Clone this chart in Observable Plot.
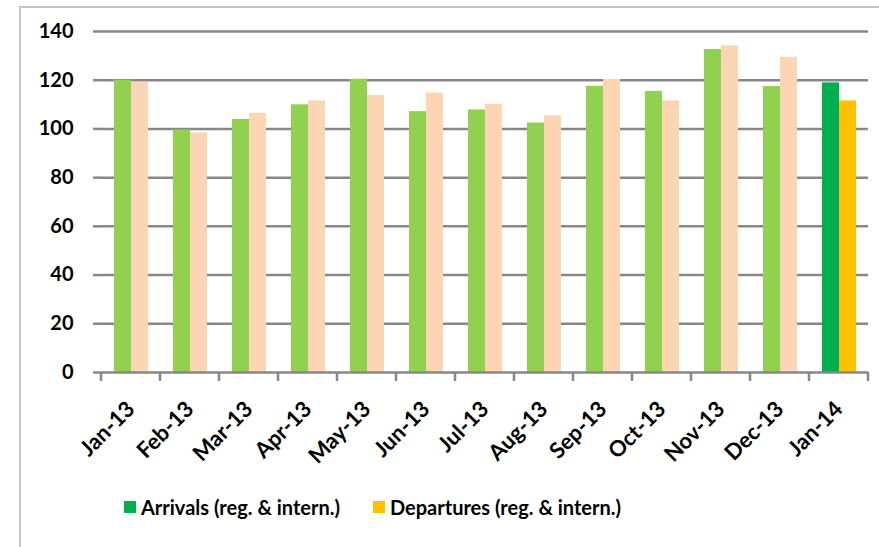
<!DOCTYPE html>
<html>
<head>
<meta charset="utf-8">
<script src="https://cdn.jsdelivr.net/npm/d3@7"></script>
<script src="https://cdn.jsdelivr.net/npm/@observablehq/plot@0.6"></script>
<style>
  html, body { margin: 0; padding: 0; background: #fff; overflow: hidden; width: 879px; height: 547px; }
  #wrap { position: relative; width: 879px; height: 547px; font-family: Lato, "Open Sans", sans-serif; }
  #border { position: absolute; left: 19px; top: 6px; width: 900px; height: 600px; border: 2px solid #c4c4c4; box-sizing: border-box; }
  #chart { position: absolute; left: 0; top: 0; }
  .item { position: absolute; top: 495px; display: flex; align-items: center; font-weight: 700; font-size: 20px; color: #000; white-space: nowrap; }
  .sw { width: 12px; height: 12px; margin-right: 5px; }
</style>
</head>
<body>
<div id="wrap">
  <div id="border"></div>
  <div id="chart"></div>
  <div id="legend"></div>
</div>
<script>
const months = ["Jan-13","Feb-13","Mar-13","Apr-13","May-13","Jun-13","Jul-13","Aug-13","Sep-13","Oct-13","Nov-13","Dec-13","Jan-14"];
const series = ["Arrivals (reg. & intern.)", "Departures (reg. & intern.)"];
const arrivals   = [120, 99.6, 103.9, 109.9, 120.4, 107.1, 107.8, 102.4, 117.5, 115.4, 132.6, 117.4, 118.9];
const departures = [119, 98.4, 106.4, 111.5, 113.8, 114.7, 110.1, 105.4, 120.3, 111.5, 134.1, 129.4, 111.5];
const yTicks = [0, 20, 40, 60, 80, 100, 120, 140];
const highlightMonth = "Jan-14";

// colours: [normal, highlighted] per series
const seriesColors = {
  "Arrivals (reg. & intern.)": ["#92D050", "#00B050"],
  "Departures (reg. & intern.)": ["#FCD5B5", "#FFC000"]
};

const table = [];
months.forEach((m, i) => {
  [arrivals, departures].forEach((vals, s) => {
    table.push({month: m, series: series[s], value: vals[i],
      key: series[s] + (m === highlightMonth ? "|hi" : "|lo")});
  });
});
const keyDomain = series.flatMap(s => [s + "|lo", s + "|hi"]);
const keyRange = series.flatMap(s => seriesColors[s]);

const gridColor = "#878787";

const chart = Plot.plot({
  width: 879,
  height: 470,
  marginLeft: 100,
  marginRight: 10,
  marginTop: 31,
  marginBottom: 98,
  style: {fontFamily: "Lato, 'Open Sans', sans-serif", fontWeight: 700, color: "#000", background: "transparent", overflow: "visible"},
  fx: {domain: months, padding: 0, label: null},
  x: {domain: series, paddingInner: 0, paddingOuter: 0.64, axis: null},
  y: {domain: [0, 140], label: null},
  color: {type: "ordinal", domain: keyDomain, range: keyRange},
  marks: [
    Plot.gridY(yTicks.filter(d => d > 0), {stroke: gridColor, strokeOpacity: 1, strokeWidth: 2.5}),
    Plot.barY(table, {fx: "month", x: "series", y: "value", fill: "key"}),
    Plot.ruleY([0], {stroke: gridColor, strokeWidth: 2.5}),
    Plot.axisY({ticks: yTicks, tickSize: 8, tickPadding: 20, line: true, stroke: gridColor, strokeWidth: 2.5, fill: "#000", fontSize: 20, fontWeight: 700, label: null}),
    Plot.axisFx({anchor: "bottom", tickRotate: -45, tickSize: 0, tickPadding: 33, dx: 0, fill: "#000", fontSize: 22, fontWeight: 700, label: null})
  ]
});
document.getElementById("chart").appendChild(chart);

// category boundary ticks on the x axis, placed with Plot's fx scale
const fx = chart.scale("fx");
const yS = chart.scale("y");
const y0 = yS.apply(0);
const edges = months.map(m => fx.apply(m)).concat([fx.apply(months[months.length - 1]) + fx.bandwidth]);
d3.select(chart).append("g")
  .selectAll("line").data(edges).join("line")
  .attr("x1", d => d).attr("x2", d => d)
  .attr("y1", y0).attr("y2", y0 + 9)
  .attr("stroke", gridColor).attr("stroke-width", 2.5);

// legend
const legend = document.getElementById("legend");
const legendLeft = [124, 373];
series.forEach((s, i) => {
  const item = document.createElement("div");
  item.className = "item";
  item.style.left = legendLeft[i] + "px";
  const sw = document.createElement("div");
  sw.className = "sw";
  sw.style.background = seriesColors[s][1];
  const t = document.createElement("span");
  t.textContent = s;
  item.appendChild(sw); item.appendChild(t);
  legend.appendChild(item);
});
</script>
</body>
</html>
